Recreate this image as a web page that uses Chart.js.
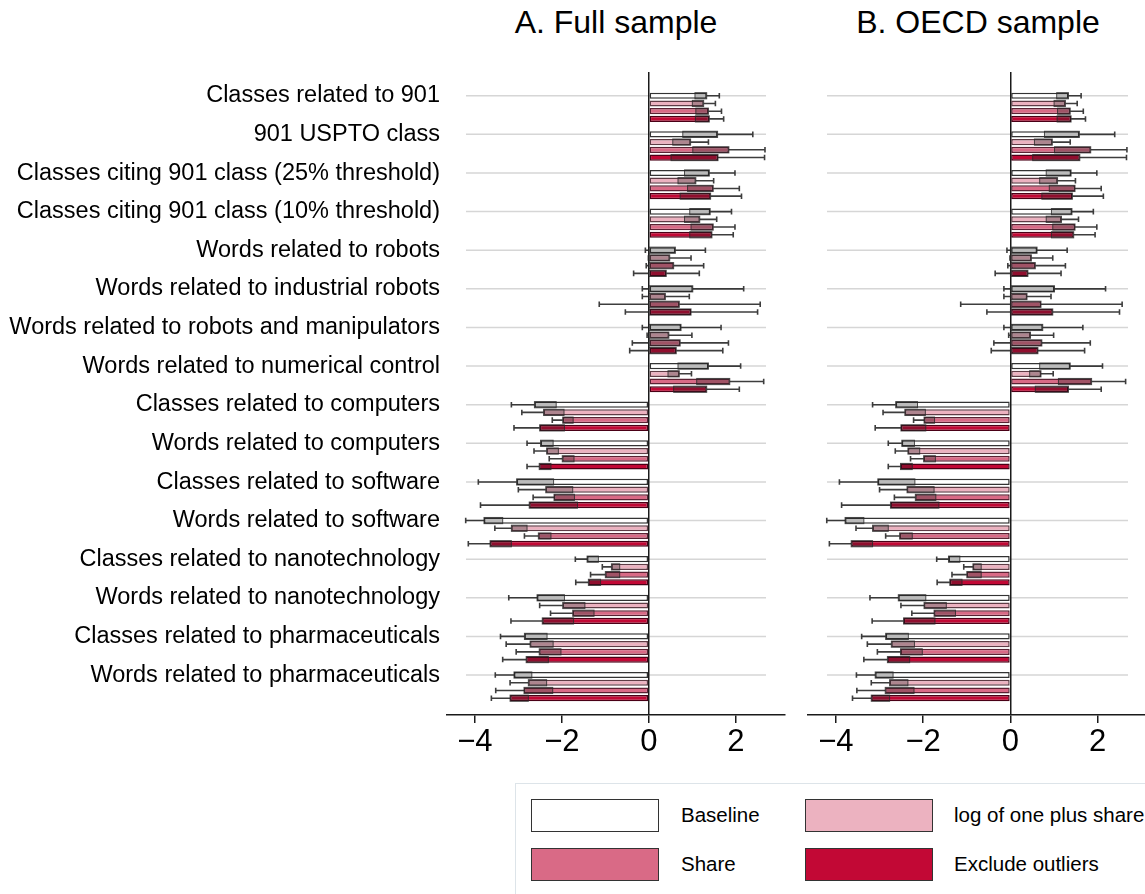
<!DOCTYPE html>
<html>
<head>
<meta charset="utf-8">
<script src="https://cdn.jsdelivr.net/npm/chart.js@4.4.1/dist/chart.umd.min.js"></script>
<style>
  html, body { margin: 0; padding: 0; background: #fff; overflow: hidden; }
  body { width: 1145px; height: 894px; position: relative; font-family: "Liberation Sans", Arial, sans-serif; }
  .panel { position: absolute; top: 0; height: 760px; }
  .title { position: absolute; top: 4px; font-size: 32px; color: #000; transform: translateX(-50%); white-space: nowrap; }
  #legend { position: absolute; left: 515px; top: 783px; width: 660px; height: 130px; border: 1px solid #dde4e9; background: #fff; }
  .sw { position: absolute; width: 126px; height: 31px; border: 1.5px solid #333; }
  .lt { position: absolute; font-size: 20.5px; color: #000; white-space: nowrap; }
</style>
</head>
<body>
<div class="title" style="left:616px">A. Full sample</div>
<div class="title" style="left:978px">B. OECD sample</div>
<div class="panel" style="left:0; width:800px"><canvas id="fullChart"></canvas></div>
<div class="panel" style="left:790px; width:370px"><canvas id="oecdChart"></canvas></div>
<div id="legend"></div>
<script>
// Categories (top to bottom)
const categories = [
    'Classes related to 901',
    '901 USPTO class',
    'Classes citing 901 class (25% threshold)',
    'Classes citing 901 class (10% threshold)',
    'Words related to robots',
    'Words related to industrial robots',
    'Words related to robots and manipulators',
    'Words related to numerical control',
    'Classes related to computers',
    'Words related to computers',
    'Classes related to software',
    'Words related to software',
    'Classes related to nanotechnology',
    'Words related to nanotechnology',
    'Classes related to pharmaceuticals',
    'Words related to pharmaceuticals'
];

const seriesNames = ['Baseline', 'log of one plus share', 'Share', 'Exclude outliers'];
const seriesColors = ['#ffffff', '#ecb2c0', '#d96a86', '#c20835'];
const seriesBorders = ['#333333', '#5e3c45', '#5a2233', '#4a0016'];

// Point estimates and confidence bounds
const baselineEst = [1.33, 1.58, 1.39, 1.41, 0.61, 1.01, 0.74, 1.37, -2.63, -2.49, -3.04, -3.79, -1.42, -2.57, -2.86, -3.10];
const baselineLo  = [1.06, 0.78, 0.82, 0.94, -0.08, -0.15, -0.15, 0.67, -3.16, -2.80, -3.92, -4.21, -1.69, -3.22, -3.41, -3.53];
const baselineHi  = [1.62, 2.39, 1.98, 1.90, 1.30, 2.18, 1.66, 2.11, -2.13, -2.20, -2.19, -3.36, -1.16, -1.94, -2.34, -2.69];

const logEst = [1.26, 0.96, 1.08, 1.17, 0.48, 0.38, 0.46, 0.70, -2.42, -2.35, -2.37, -3.16, -0.86, -1.98, -2.73, -2.77];
const logLo  = [1.00, 0.55, 0.67, 0.82, -0.01, -0.15, -0.04, 0.44, -2.92, -2.64, -3.00, -3.54, -1.07, -2.51, -3.28, -3.19];
const logHi  = [1.53, 1.37, 1.49, 1.56, 0.97, 0.93, 0.99, 0.98, -1.95, -2.08, -1.75, -2.80, -0.67, -1.47, -2.20, -2.35];

const shareEst = [1.37, 1.84, 1.48, 1.48, 0.57, 0.70, 0.72, 1.86, -1.98, -1.99, -2.18, -2.54, -1.00, -1.75, -2.52, -2.87];
const shareLo  = [1.08, 1.01, 0.89, 0.97, -0.06, -1.14, -0.38, 1.10, -2.22, -2.29, -2.66, -2.86, -1.34, -2.26, -3.05, -3.52];
const shareHi  = [1.67, 2.67, 2.08, 1.98, 1.26, 2.56, 1.83, 2.64, -1.74, -1.72, -1.71, -2.25, -0.67, -1.26, -2.02, -2.21];

const exclEst = [1.39, 1.59, 1.42, 1.45, 0.40, 0.97, 0.63, 1.33, -2.51, -2.52, -2.75, -3.65, -1.39, -2.45, -2.82, -3.19];
const exclLo  = [1.07, 0.51, 0.72, 0.94, -0.35, -0.54, -0.44, 0.57, -3.10, -2.80, -3.87, -4.15, -1.68, -3.17, -3.36, -3.62];
const exclHi  = [1.72, 2.66, 2.13, 1.94, 1.16, 2.50, 1.70, 2.08, -1.94, -2.25, -1.64, -3.16, -1.11, -1.73, -2.31, -2.77];

const xTicks = [-4, -2, 0, 2];

const series = [
    { est: baselineEst, lo: baselineLo, hi: baselineHi },
    { est: logEst, lo: logLo, hi: logHi },
    { est: shareEst, lo: shareLo, hi: shareHi },
    { est: exclEst, lo: exclLo, hi: exclHi }
];

Chart.defaults.font.family = '"Liberation Sans", Arial, sans-serif';
Chart.defaults.color = '#000';

// light horizontal rules at the first bar of each group
const gridRows = {
    id: 'gridRows',
    beforeDraw(chart) {
        const meta = chart.getDatasetMeta(0);
        const area = chart.chartArea;
        const ctx = chart.ctx;
        ctx.save();
        ctx.strokeStyle = '#d6d6d6';
        ctx.lineWidth = 1.5;
        meta.data.forEach(bar => {
            ctx.beginPath();
            ctx.moveTo(area.left + 19, bar.y);
            ctx.lineTo(area.right - 19, bar.y);
            ctx.stroke();
        });
        ctx.restore();
    }
};

// confidence intervals: shaded part inside the bar, whisker outside
const ciBars = {
    id: 'ciBars',
    afterDatasetsDraw(chart) {
        const ctx = chart.ctx;
        const xs = chart.scales.x;
        ctx.save();
        chart.data.datasets.forEach((ds, i) => {
            const meta = chart.getDatasetMeta(i);
            meta.data.forEach((bar, j) => {
                const v = ds.data[j].x;
                const lo = ds.lo[j], hi = ds.hi[j];
                const pos = v >= 0;
                const near = pos ? Math.max(lo, 0) : Math.min(hi, 0);
                const far = pos ? hi : lo;
                const other = pos ? lo : hi;
                const y = bar.y, h = bar.height;
                const capH = h * 0.9;

                const x0 = xs.getPixelForValue(near), x1 = xs.getPixelForValue(v);
                ctx.fillStyle = 'rgba(30,30,30,0.3)';
                ctx.fillRect(Math.min(x0, x1), y - h / 2, Math.abs(x1 - x0), h);
                ctx.strokeStyle = 'rgba(40,40,40,0.8)';
                ctx.lineWidth = 1;
                ctx.strokeRect(Math.min(x0, x1), y - h / 2, Math.abs(x1 - x0), h);

                ctx.strokeStyle = 'rgba(40,40,40,0.9)';
                ctx.lineWidth = 1.6;
                const xf = xs.getPixelForValue(far);
                ctx.beginPath();
                ctx.moveTo(x1, y); ctx.lineTo(xf, y);
                ctx.moveTo(xf, y - capH / 2); ctx.lineTo(xf, y + capH / 2);
                ctx.stroke();

                if (pos ? other < 0 : other > 0) {
                    const xz = xs.getPixelForValue(0), xo = xs.getPixelForValue(other);
                    ctx.beginPath();
                    ctx.moveTo(xz, y); ctx.lineTo(xo, y);
                    ctx.moveTo(xo, y - capH / 2); ctx.lineTo(xo, y + capH / 2);
                    ctx.stroke();
                }
            });
        });
        ctx.restore();
    }
};

function buildDatasets() {
    return series.map((s, k) => ({
        label: seriesNames[k],
        data: s.est.map((v, i) => ({ x: v, y: i })),
        lo: s.lo,
        hi: s.hi,
        backgroundColor: seriesColors[k],
        borderColor: seriesBorders[k],
        borderWidth: 1.5,
        borderSkipped: false,
        barPercentage: 0.8,
        categoryPercentage: 0.8
    }));
}

function makeChart(id, showLabels, padding) {
    return new Chart(document.getElementById(id), {
        type: 'bar',
        data: { datasets: buildDatasets() },
        plugins: [gridRows, ciBars],
        options: {
            indexAxis: 'y',
            responsive: true,
            maintainAspectRatio: false,
            animation: false,
            layout: { padding: padding },
            plugins: {
                legend: { display: false },
                tooltip: { enabled: false }
            },
            scales: {
                x: {
                    type: 'linear',
                    min: -4.64,
                    max: 3.13,
                    afterBuildTicks: scale => { scale.ticks = xTicks.map(v => ({ value: v })); },
                    afterFit: scale => { scale.height = 45; },
                    grid: {
                        color: c => (c.tick && c.tick.value === 0) ? '#1a1a1a' : 'rgba(0,0,0,0)',
                        lineWidth: 1.5,
                        tickColor: '#1a1a1a',
                        tickWidth: 1.5,
                        tickLength: 8
                    },
                    border: { display: true, color: '#1a1a1a', width: 1.5 },
                    ticks: {
                        font: { size: 31 },
                        color: '#000',
                        padding: 1,
                        callback: v => v < 0 ? '\u2212' + Math.abs(v) : String(v)
                    }
                },
                y: {
                    type: 'linear',
                    reverse: true,
                    offset: false,
                    min: -0.915,
                    max: 15.735,
                    display: showLabels,
                    afterBuildTicks: scale => { scale.ticks = categories.map((c, i) => ({ value: i })); },
                    afterFit: scale => { if (showLabels) scale.width = 447; },
                    grid: { display: false, drawTicks: false, offset: false },
                    border: { display: false },
                    ticks: {
                        autoSkip: false,
                        font: { size: 23.5 },
                        color: '#000',
                        padding: 7,
                        labelOffset: -11.5,
                        callback: v => categories[v]
                    }
                }
            }
        }
    });
}

makeChart('fullChart', true, { top: 72, right: 15, left: 0, bottom: 0 });
makeChart('oecdChart', false, { top: 72, right: 13, left: 18, bottom: 0 });

// legend (2 x 2)
const legend = document.getElementById('legend');
const swX = [15, 289], txtX = [165, 438], rowY = [15, 64];
seriesNames.forEach((name, k) => {
    const col = k % 2, row = Math.floor(k / 2);
    const sw = document.createElement('div');
    sw.className = 'sw';
    sw.style.left = swX[col] + 'px';
    sw.style.top = rowY[row] + 'px';
    sw.style.background = seriesColors[k];
    legend.appendChild(sw);
    const t = document.createElement('div');
    t.className = 'lt';
    t.textContent = name;
    t.style.left = txtX[col] + 'px';
    t.style.top = (rowY[row] + 4) + 'px';
    legend.appendChild(t);
});
</script>
</body>
</html>
